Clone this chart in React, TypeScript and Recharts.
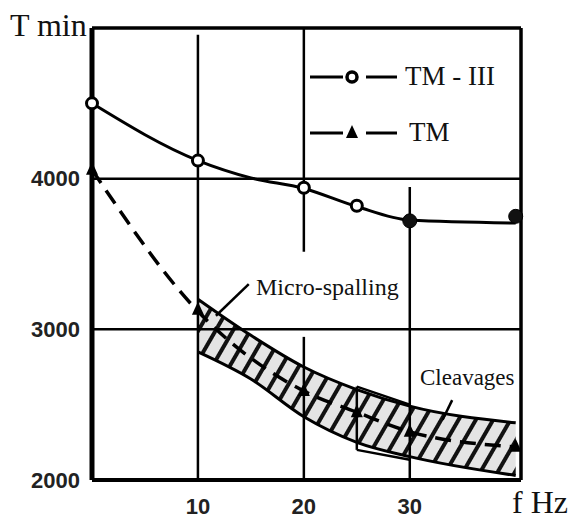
import React from 'react'
import {
    ComposedChart,
    Line,
    Area,
    XAxis,
    YAxis,
    ReferenceLine,
} from 'recharts'

// Frequency (Hz) for each row
const freq = [0, 10, 15, 20, 25, 30, 40]

// TM-III durability curve and its measured points
const tm3Curve = [4500, 4120, 4005, 3935, 3815, 3725, 3705]
const tm3Open = [4500, 4120, null, 3940, 3820, null, null]
const tm3Filled = [null, null, null, null, null, 3720, 3750]

// TM durability curve and its measured points
const tmCurve = [4060, 3120, null, 2590, 2450, 2320, 2220]
const tmMarks = [4060, 3130, null, 2590, 2450, 2320, 2220]

// hatched scatter band around TM
const bandHigh = [null, 3200, 2960, 2750, 2600, 2490, 2380]
const bandLow = [null, 2850, 2670, 2420, 2250, 2155, 2030]

// outlined cleavage zone
const boxHigh = [null, null, null, null, 2620, 2500, null]
const boxLow = [null, null, null, null, 2200, 2135, null]

const xTicks = [10, 20, 30]
const yTicks = [2000, 3000, 4000]
const X_MAX = 40.5
const Y_MIN = 2000
const Y_MAX = 5000

const legendItems = [
    { name: 'TM - III', marker: 'circle' },
    { name: 'TM', marker: 'triangle' },
]

// inner grid, drawn as pieces
const gridSegments = [
    [{ x: 10, y: 4955 }, { x: 10, y: 2000 }],
    [{ x: 20, y: 5000 }, { x: 20, y: 3515 }],
    [{ x: 20, y: 2950 }, { x: 20, y: 2000 }],
    [{ x: 30, y: 3945 }, { x: 30, y: 2000 }],
    [{ x: 0, y: 4000 }, { x: X_MAX, y: 4000 }],
    [{ x: 0, y: 3000 }, { x: X_MAX, y: 3000 }],
]

// annotation leaders
const microLeader = [{ x: 14.8, y: 3300 }, { x: 11.7, y: 3090 }]
const cleavLeader = [{ x: 34.0, y: 2530 }, { x: 33.1, y: 2400 }]

const data = freq.map((f, i) => ({
    f,
    tm3Curve: tm3Curve[i],
    tm3Open: tm3Open[i],
    tm3Filled: tm3Filled[i],
    tmCurve: tmCurve[i],
    tmMarks: tmMarks[i],
    band: bandLow[i] == null ? null : [bandLow[i], bandHigh[i]],
    box: boxLow[i] == null ? null : [boxLow[i], boxHigh[i]],
}))

const SERIF = '"Liberation Serif", "Times New Roman", serif'
const SANS = '"Liberation Sans", Arial, sans-serif'

const openCircle = (props: any) => {
    const { cx, cy, index } = props
    if (!Number.isFinite(cx) || !Number.isFinite(cy)) return <g key={`oc-${index}`} />
    return <circle key={`oc-${index}`} cx={cx} cy={cy} r={5.5} fill="#fff" stroke="#000" strokeWidth={3} />
}

const filledCircle = (props: any) => {
    const { cx, cy, index } = props
    if (!Number.isFinite(cx) || !Number.isFinite(cy)) return <g key={`fc-${index}`} />
    return <circle key={`fc-${index}`} cx={cx} cy={cy} r={7} fill="#111" stroke="#000" strokeWidth={1} />
}

const triangle = (props: any) => {
    const { cx, cy, index } = props
    if (!Number.isFinite(cx) || !Number.isFinite(cy)) return <g key={`tr-${index}`} />
    return (
        <path
            key={`tr-${index}`}
            d={`M${cx},${cy - 8} L${cx + 6},${cy + 5} L${cx - 6},${cy + 5} Z`}
            fill="#000"
        />
    )
}

// legend box in the upper right of the plot
function LegendBox() {
    return (
        <g>
            {legendItems.map((item, i) => {
                const y = 77 + i * 56
                return (
                    <g key={item.name}>
                        <line x1={310} x2={343} y1={y} y2={y} stroke="#000" strokeWidth={3} />
                        {item.marker === 'triangle' ? (
                            <path d={`M352,${y - 8} L358,${y + 5} L346,${y + 5} Z`} fill="#000" />
                        ) : (
                            <circle cx={352} cy={y} r={5} fill="#fff" stroke="#000" strokeWidth={3.5} />
                        )}
                        <line x1={366} x2={397} y1={y} y2={y} stroke="#000" strokeWidth={3} />
                        <text
                            x={item.marker === 'triangle' ? 409 : 405}
                            y={y + 8}
                            fontFamily={SERIF}
                            fontSize={27}
                            fill="#111"
                        >
                            {item.name}
                        </text>
                    </g>
                )
            })}
        </g>
    )
}

export default function App() {
    return (
        <div style={{ position: 'absolute', left: 0, top: 0, width: 574, height: 521, background: '#fff' }}>
            <svg width={0} height={0} style={{ position: 'absolute' }}>
                <defs>
                    <pattern id="hatch" patternUnits="userSpaceOnUse" width={15} height={15} patternTransform="rotate(30)">
                        <rect width={15} height={15} fill="#e4e4e4" />
                        <line x1={7} y1={0} x2={7} y2={15} stroke="#111" strokeWidth={4} />
                    </pattern>
                </defs>
            </svg>
            <ComposedChart
                width={574}
                height={521}
                data={data}
                margin={{ top: 28, right: 53, left: 0, bottom: 0 }}
            >
                <XAxis
                    dataKey="f"
                    type="number"
                    domain={[0, X_MAX]}
                    ticks={xTicks}
                    height={41}
                    tickSize={0}
                    tickMargin={18}
                    axisLine={{ stroke: '#000', strokeWidth: 4 }}
                    tick={{ fontFamily: SANS, fontSize: 22, fontWeight: 'bold', fill: '#222' }}
                />
                <YAxis
                    type="number"
                    domain={[Y_MIN, Y_MAX]}
                    ticks={yTicks}
                    width={92}
                    tickSize={0}
                    tickMargin={12}
                    axisLine={{ stroke: '#000', strokeWidth: 5 }}
                    tick={{ fontFamily: SANS, fontSize: 22, fontWeight: 'bold', fill: '#222' }}
                />
                {gridSegments.map((seg, i) => (
                    <ReferenceLine key={`g-${i}`} segment={seg} stroke="#000" strokeWidth={2.5} />
                ))}
                <ReferenceLine y={Y_MAX} stroke="#000" strokeWidth={3.5} />
                <ReferenceLine x={X_MAX} stroke="#000" strokeWidth={3.5} />

                <Area
                    dataKey="band"
                    type="monotone"
                    fill="url(#hatch)"
                    fillOpacity={1}
                    stroke="#000"
                    strokeWidth={3}
                    isAnimationActive={false}
                />
                <Area
                    dataKey="box"
                    type="linear"
                    fill="none"
                    stroke="#000"
                    strokeWidth={2.5}
                    isAnimationActive={false}
                />
                <ReferenceLine
                    segment={[{ x: freq[4], y: boxLow[4] as number }, { x: freq[4], y: boxHigh[4] as number }]}
                    stroke="#000"
                    strokeWidth={2.5}
                />
                <ReferenceLine segment={microLeader} stroke="#000" strokeWidth={2.5} />
                <ReferenceLine segment={cleavLeader} stroke="#000" strokeWidth={2.5} />

                <Line
                    dataKey="tm3Curve"
                    name="TM - III"
                    type="monotone"
                    stroke="#000"
                    strokeWidth={3}
                    dot={false}
                    connectNulls
                    isAnimationActive={false}
                />
                <Line
                    dataKey="tmCurve"
                    name="TM"
                    type="monotone"
                    stroke="#000"
                    strokeWidth={3.5}
                    strokeDasharray="16 9"
                    dot={false}
                    connectNulls
                    isAnimationActive={false}
                />
                <Line dataKey="tm3Open" stroke="none" dot={openCircle} isAnimationActive={false} />
                <Line dataKey="tm3Filled" stroke="none" dot={filledCircle} isAnimationActive={false} />
                <Line dataKey="tmMarks" stroke="none" dot={triangle} isAnimationActive={false} />
            </ComposedChart>
            <svg
                width={574}
                height={521}
                style={{ position: 'absolute', left: 0, top: 0, pointerEvents: 'none' }}
            >
                <LegendBox />
                <text x={10} y={36} fontFamily={SERIF} fontSize={32} fill="#111">T min</text>
                <text x={512} y={513} fontFamily={SERIF} fontSize={32} fill="#111">f Hz</text>
                <text x={256} y={295} fontFamily={SERIF} fontSize={24} fill="#111">Micro-spalling</text>
                <text x={420} y={385} fontFamily={SERIF} fontSize={23} fill="#111">Cleavages</text>
            </svg>
        </div>
    )
}
